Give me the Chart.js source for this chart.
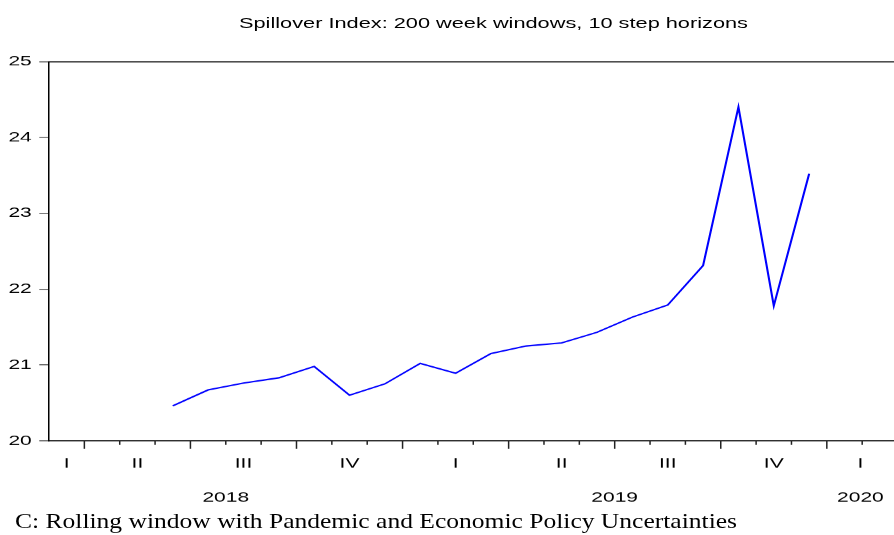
<!DOCTYPE html>
<html>
<head>
<meta charset="utf-8">
<script src="https://cdn.jsdelivr.net/npm/chart.js@4.4.0/dist/chart.umd.min.js"></script>
<style>
  html, body { margin: 0; padding: 0; background: #fff; overflow: hidden; }
  #page { position: relative; width: 894px; height: 535px; }
  /* the original graph is stretched sideways, so draw narrow and widen it */
  #stretch { position: absolute; left: 0; top: 0; width: 596px; height: 535px; transform: scaleX(1.5); transform-origin: 0 0; }
  #title { position: absolute; left: 29px; top: 14.5px; width: 600px; text-align: center; font: 14.5px "Liberation Sans", Arial, sans-serif; line-height: 16px; color: #000; white-space: nowrap; }
  #caption { position: absolute; left: 15px; top: 508px; font: 22px "Liberation Serif", "Times New Roman", serif; line-height: 26px; color: #000; white-space: nowrap; transform-origin: 0 0; }
</style>
</head>
<body>
<div id="page">
  <div id="stretch">
    <div id="title">Spillover Index: 200 week windows, 10 step horizons</div>
    <canvas id="chart" width="596" height="535"></canvas>
  </div>
  <div id="caption">C: Rolling window with Pandemic and Economic Policy Uncertainties</div>
</div>
<script>
// axis runs from 1 Mar 2018 to late Feb 2020 (in months)
const START_YEAR = 2018;
const START_MONTH = 3;
const AXIS_MONTHS = 23.9;

const months = ['2018-06', '2018-07', '2018-08', '2018-09', '2018-10', '2018-11', '2018-12',
  '2019-01', '2019-02', '2019-03', '2019-04', '2019-05', '2019-06', '2019-07', '2019-08',
  '2019-09', '2019-10', '2019-11', '2019-12'];
const spillover = [20.46, 20.67, 20.76, 20.83, 20.98, 20.60, 20.75, 21.02, 20.89, 21.15,
  21.25, 21.29, 21.43, 21.63, 21.79, 22.31, 24.40, 21.78, 23.52];
const quarterNames = ['I', 'II', 'III', 'IV'];
const years = [2018, 2019, 2020];
const yTicks = [20, 21, 22, 23, 24, 25];

function monthIndex(y, m) {
  return (y - START_YEAR) * 12 + (m - START_MONTH);
}

// middle of the visible part of [a, b]
function visibleCenter(a, b) {
  const lo = Math.max(a, 0), hi = Math.min(b, AXIS_MONTHS);
  return hi > lo ? (lo + hi) / 2 : null;
}

const quarterTicks = [];
years.forEach(y => {
  quarterNames.forEach((q, i) => {
    const c = visibleCenter(monthIndex(y, 1 + i * 3), monthIndex(y, 4 + i * 3));
    if (c !== null) quarterTicks.push({ value: c, label: q });
  });
});
const yearTicks = years.map(y => ({ value: visibleCenter(monthIndex(y, 1), monthIndex(y + 1, 1)), label: String(y) }));

const points = months.map((s, i) => {
  const [y, m] = s.split('-').map(Number);
  return { x: monthIndex(y, m) + 0.5, y: spillover[i] };
});

// small tick for every month, taller at quarter starts
const monthTicks = {
  id: 'monthTicks',
  afterDraw(chart) {
    const xs = chart.scales.x;
    const ctx = chart.ctx;
    const y0 = chart.chartArea.bottom;
    ctx.save();
    ctx.strokeStyle = '#222';
    ctx.lineWidth = 1;
    for (let m = 1; m < AXIS_MONTHS; m++) {
      const px = xs.getPixelForValue(m);
      const len = ((m % 3) + 3) % 3 === 1 ? 8 : 4;
      ctx.beginPath();
      ctx.moveTo(px, y0);
      ctx.lineTo(px, y0 + len);
      ctx.stroke();
    }
    ctx.restore();
  }
};

Chart.defaults.font.family = '"Liberation Sans", Arial, sans-serif';
Chart.defaults.font.size = 14;
Chart.defaults.color = '#000';

new Chart(document.getElementById('chart'), {
  type: 'line',
  data: {
    datasets: [{
      data: points,
      borderColor: '#0000ff',
      borderWidth: 1.4,
      pointRadius: 0,
      tension: 0,
      fill: false
    }]
  },
  options: {
    responsive: false,
    animation: false,
    devicePixelRatio: 1.5,
    layout: { autoPadding: false, padding: { top: 61.5, left: 0, right: 0, bottom: 0 } },
    plugins: { legend: { display: false }, tooltip: { enabled: false } },
    scales: {
      x: {
        type: 'linear',
        position: 'bottom',
        min: 0,
        max: AXIS_MONTHS,
        afterBuildTicks: s => { s.ticks = quarterTicks.map(t => ({ value: t.value })); },
        afterFit: s => { s.height = 36; },
        ticks: { padding: 6.5, maxRotation: 0, autoSkip: false, callback: (v, i) => quarterTicks[i].label },
        grid: { display: false },
        border: { display: true, color: '#000', width: 1 }
      },
      x2: {
        type: 'linear',
        position: 'bottom',
        min: 0,
        max: AXIS_MONTHS,
        afterBuildTicks: s => { s.ticks = yearTicks.map(t => ({ value: t.value })); },
        afterFit: s => { s.height = 58.5; },
        ticks: { padding: 4.5, maxRotation: 0, autoSkip: false, callback: (v, i) => yearTicks[i].label },
        grid: { display: false },
        border: { display: false }
      },
      xTop: {
        type: 'linear',
        position: 'top',
        min: 0,
        max: AXIS_MONTHS,
        afterFit: s => { s.height = 0; },
        ticks: { display: false },
        grid: { drawOnChartArea: false, drawTicks: false },
        border: { display: true, color: '#000', width: 1 }
      },
      y: {
        min: 20,
        max: 25,
        afterBuildTicks: s => { s.ticks = yTicks.map(v => ({ value: v })); },
        afterFit: s => { s.width = 32.67; },
        ticks: { padding: 5 },
        grid: { drawOnChartArea: false, tickLength: 6.5, tickColor: '#555' },
        border: { display: true, color: '#000', width: 1 }
      }
    }
  },
  plugins: [monthTicks]
});

// fit caption to the width it has in the original
const cap = document.getElementById('caption');
cap.style.transform = 'scaleX(' + (722 / cap.getBoundingClientRect().width) + ')';
</script>
</body>
</html>
